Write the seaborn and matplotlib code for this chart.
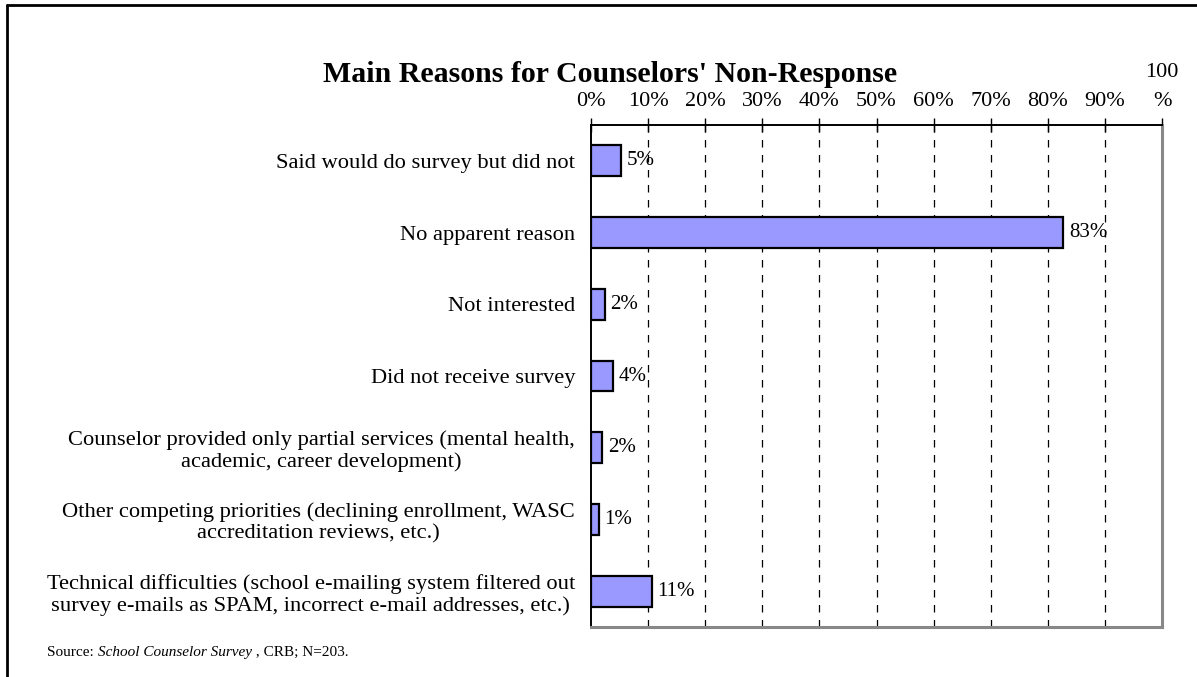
import matplotlib
matplotlib.use('Agg')
import matplotlib.pyplot as plt
from matplotlib.lines import Line2D
import seaborn as sns
import numpy as np

# --- data ---
REASONS = [
    'Said would do survey but did not',
    'No apparent reason',
    'Not interested',
    'Did not receive survey',
    'Counselor provided only partial services (mental health,\nacademic, career development)',
    'Other competing priorities (declining enrollment, WASC\naccreditation reviews, etc.)',
    'Technical difficulties (school e-mailing system filtered out\nsurvey e-mails as SPAM, incorrect e-mail addresses, etc.)',
]
SHARES = [5.3, 82.7, 2.4, 3.9, 2.0, 1.4, 10.7]
SHARE_LABELS = ['5%', '83%', '2%', '4%', '2%', '1%', '11%']
X_TICKS = [0, 10, 20, 30, 40, 50, 60, 70, 80, 90, 100]
X_TICK_LABELS = ['0%', '10%', '20%', '30%', '40%', '50%', '60%', '70%', '80%', '90%', '100\n%']

TITLE = "Main Reasons for Counselors' Non-Response"
BAR_COLOR = '#9999FF'

sns.set_style('white')
plt.rcParams['font.family'] = ['Liberation Serif', 'DejaVu Serif']
plt.rcParams['text.color'] = 'black'
plt.rcParams['xtick.labelcolor'] = 'black'
plt.rcParams['ytick.labelcolor'] = 'black'

W, H = 1197, 677
fig = plt.figure(figsize=(W / 100, H / 100), dpi=100)
ax = fig.add_axes([591 / W, 1 - 627 / H, (1162 - 591) / W, (627 - 125) / H])

sns.barplot(x=SHARES, y=REASONS, orient='h', color=BAR_COLOR, saturation=1,
            edgecolor='black', linewidth=1.6, width=0.43, ax=ax)

n = len(REASONS)
ax.set_xlim(0, 100)
ax.set_ylim(n - 0.5, -0.5)

# dashed vertical grid
for x in X_TICKS[1:-1]:
    ax.axvline(x, color='black', linestyle=(0, (6, 6)), linewidth=0.9, zorder=0)

# x axis on top
ax.xaxis.tick_top()
ax.set_xticks(X_TICKS)
ax.set_xticklabels(X_TICK_LABELS, fontsize=16, linespacing=1.75, color='black')
ax.tick_params(axis='x', direction='inout', length=10, width=1, pad=5, color='black')

# category labels at centres, tick marks at boundaries
ax.set_yticks(np.arange(n))
ax.set_yticklabels(REASONS, fontsize=16.2, multialignment='center', linespacing=1.15,
                   color='black')
ax.set_yticks(np.arange(n + 1) - 0.5, minor=True)
ax.tick_params(axis='y', which='major', length=0, pad=11.5)
ax.tick_params(axis='y', which='minor', length=7, width=1, color='black', direction='out')
ax.set_xlabel('')
ax.set_ylabel('')

for side in ['top', 'left']:
    ax.spines[side].set_color('black')
    ax.spines[side].set_linewidth(1.4)
for side in ['right', 'bottom']:
    ax.spines[side].set_visible(True)
    ax.spines[side].set_color('#888888')
    ax.spines[side].set_linewidth(2.2)

# value labels
for i, (v, lab) in enumerate(zip(SHARES, SHARE_LABELS)):
    ax.annotate(lab, xy=(v, i), xytext=(4, 0), textcoords='offset points',
                va='center', ha='left', fontsize=15, color='black')

fig.text(610 / W, 1 - 74 / H, TITLE, ha='center', va='center',
         fontsize=21.5, fontweight='bold', color='black')

# source line, survey name in italics, pieces placed on one baseline
renderer = fig.canvas.get_renderer()
src_y = 1 - 656 / H
x_pos = 47 / W
for piece, style in [('Source: ', 'normal'), ('School Counselor Survey', 'italic'),
                     (' , CRB; N=203.', 'normal')]:
    t = fig.text(x_pos, src_y, piece, ha='left', va='baseline', fontsize=11, style=style)
    bb = t.get_window_extent(renderer=renderer)
    x_pos = bb.x1 / W

# outer frame (top and left edges visible)
fig.add_artist(Line2D([7 / W, 1], [1 - 5 / H, 1 - 5 / H], color='black', linewidth=2,
                      transform=fig.transFigure))
fig.add_artist(Line2D([7 / W, 7 / W], [0, 1 - 5 / H], color='black', linewidth=2,
                      transform=fig.transFigure))

fig.savefig('out.png', dpi=100)
